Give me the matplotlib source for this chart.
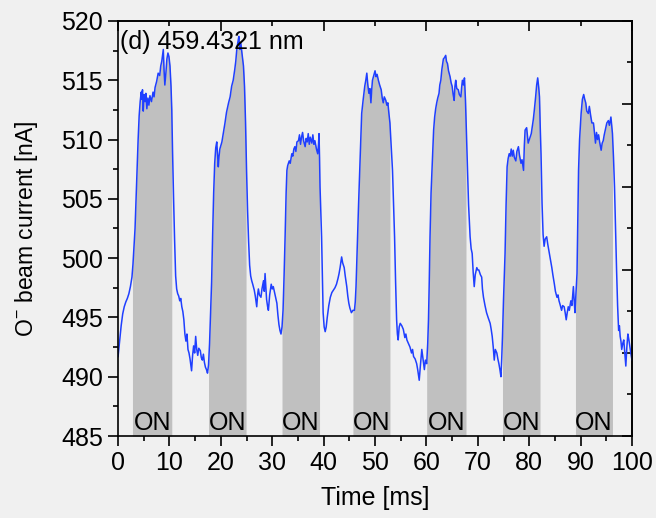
import matplotlib
matplotlib.use('Agg')
import matplotlib.pyplot as plt
from matplotlib.ticker import MultipleLocator
import numpy as np

plt.rcParams['font.family'] = ['Liberation Sans', 'DejaVu Sans']
plt.rcParams['mathtext.fontset'] = 'custom'
plt.rcParams['mathtext.rm'] = 'Liberation Sans'
plt.rcParams['mathtext.default'] = 'regular'

BG = '#f0f0f0'
LINE = '#1f3fff'
FILL = '#c0c0c0'

# beam current trace (time in ms, current in nA)
time_ms = [
    0.0, 0.3, 0.6, 0.9, 1.2, 1.5, 1.8, 2.1, 2.4, 2.7, 2.9, 3.1, 3.3, 3.5, 3.7, 3.9,
    4.1, 4.3, 4.5, 4.6, 4.75, 4.9, 5.05, 5.25, 5.4, 5.6, 5.8, 6.0, 6.2, 6.5, 6.8, 7.0,
    7.2, 7.5, 7.8, 8.1, 8.3, 8.5, 8.7, 8.8, 8.95, 9.1, 9.3, 9.5, 9.7, 9.9, 10.1, 10.3,
    10.45, 10.6, 10.8, 11.0, 11.2, 11.4, 11.6, 11.8, 12.0, 12.2, 12.4, 12.6, 12.8, 13.0,
    13.2, 13.4, 13.6, 13.8, 14.0, 14.2, 14.3, 14.5, 14.7, 14.9, 15.1, 15.3, 15.5, 15.7,
    16.0, 16.2, 16.4, 16.6, 16.8, 17.0, 17.2, 17.4, 17.6, 17.8, 18.0, 18.2, 18.4, 18.6,
    18.8, 19.0, 19.2, 19.35, 19.5, 19.65, 19.8, 20.0, 20.2, 20.5, 20.8, 21.1, 21.5, 21.8,
    22.1, 22.4, 22.7, 22.9, 23.1, 23.3, 23.5, 23.7, 23.9, 24.1, 24.4, 24.6, 24.8, 25.0,
    25.2, 25.4, 25.6, 25.8, 26.0, 26.2, 26.5, 26.7, 26.98, 27.15, 27.3, 27.5, 27.8, 28.0,
    28.3, 28.45, 28.6, 28.75, 28.9, 29.1, 29.25, 29.5, 29.8, 30.0, 30.2, 30.5, 30.7, 30.9,
    31.1, 31.3, 31.5, 31.7, 31.9, 32.1, 32.3, 32.5, 32.7, 32.85, 33.0, 33.3, 33.5, 33.8,
    34.0, 34.2, 34.4, 34.6, 34.8, 35.1, 35.3, 35.5, 35.7, 35.9, 36.1, 36.4, 36.6, 36.8,
    37.0, 37.2, 37.4, 37.7, 37.9, 38.1, 38.3, 38.6, 38.85, 39.0, 39.1, 39.2, 39.3, 39.45,
    39.6, 39.75, 39.9, 40.1, 40.3, 40.5, 40.7, 41.0, 41.3, 41.6, 41.9, 42.2, 42.5, 42.8,
    43.0, 43.2, 43.4, 43.5, 43.7, 44.0, 44.2, 44.5, 44.7, 44.9, 45.1, 45.4, 45.7, 45.99,
    46.15, 46.3, 46.5, 46.8, 47.1, 47.4, 47.7, 48.0, 48.2, 48.4, 48.6, 48.8, 49.0, 49.2,
    49.35, 49.5, 49.8, 50.0, 50.2, 50.4, 50.65, 50.9, 51.2, 51.4, 51.6, 51.8, 52.1, 52.3,
    52.5, 52.7, 52.9, 53.1, 53.4, 53.6, 53.8, 54.0, 54.2, 54.35, 54.5, 54.7, 54.9, 55.2,
    55.5, 55.8, 56.0, 56.2, 56.5, 56.8, 57.1, 57.3, 57.5, 57.8, 58.1, 58.3, 58.6, 58.8,
    59.1, 59.3, 59.6, 59.8, 60.05, 60.25, 60.4, 60.55, 60.7, 60.9, 61.2, 61.4, 61.6, 61.8,
    62.0, 62.2, 62.45, 62.6, 62.8, 63.0, 63.3, 63.5, 63.75, 63.9, 64.1, 64.3, 64.6, 64.8,
    65.0, 65.2, 65.4, 65.55, 65.7, 65.9, 66.2, 66.4, 66.7, 66.85, 67.0, 67.2, 67.4, 67.6,
    67.8, 68.0, 68.2, 68.5, 68.7, 68.9, 69.1, 69.3, 69.5, 69.8, 70.0, 70.2, 70.5, 70.75,
    70.9, 71.1, 71.4, 71.7, 72.0, 72.4, 72.6, 72.8, 73.0, 73.2, 73.4, 73.7, 73.9, 74.1,
    74.3, 74.5, 74.65, 74.8, 75.0, 75.3, 75.5, 75.7, 75.9, 76.1, 76.3, 76.5, 76.7, 76.9,
    77.1, 77.4, 77.6, 77.9, 78.1, 78.4, 78.6, 78.9, 79.05, 79.2, 79.5, 79.65, 79.8, 80.1,
    80.4, 80.6, 80.8, 81.0, 81.25, 81.45, 81.65, 81.85, 82.0, 82.15, 82.3, 82.5, 82.7, 82.9,
    83.1, 83.4, 83.6, 83.8, 84.1, 84.4, 84.6, 84.9, 85.1, 85.4, 85.6, 85.8, 86.0, 86.3,
    86.5, 86.8, 87.0, 87.2, 87.4, 87.6, 87.8, 88.1, 88.3, 88.6, 88.75, 88.9, 89.1, 89.3,
    89.45, 89.6, 89.8, 90.1, 90.35, 90.6, 90.8, 91.0, 91.2, 91.5, 91.7, 92.0, 92.2, 92.5,
    92.7, 92.9, 93.1, 93.3, 93.5, 93.7, 94.0, 94.2, 94.4, 94.6, 94.9, 95.1, 95.4, 95.6,
    95.9, 96.05, 96.2, 96.4, 96.6, 96.8, 97.0, 97.2, 97.4, 97.55, 97.7, 97.85, 98.0, 98.2,
    98.4, 98.6, 98.8, 99.0, 99.2, 99.4, 99.6, 99.8, 100.0,
]
current_nA = [
    491.7, 493.0, 494.3, 495.3, 495.9, 496.3, 496.6, 497.0, 497.6, 498.4, 499.5, 501.0, 502.5, 505.0, 507.5, 510.0,
    512.0, 513.2, 514.0, 513.4, 514.2, 512.4, 513.8, 513.2, 513.9, 512.6, 513.5, 512.9, 513.7, 513.2, 514.0, 513.6,
    514.4, 514.9, 515.6, 515.4, 516.2, 516.6, 517.3, 517.6, 515.8, 514.6, 515.6, 516.8, 517.3, 517.0, 516.2, 514.5,
    512.5, 509.0, 505.0, 501.5, 498.5, 497.4, 497.0, 496.8, 496.4, 496.6, 495.9, 495.5, 494.8, 493.6,
    493.0, 493.6, 492.3, 492.0, 491.5, 490.8, 490.5, 491.8, 492.6, 492.0, 493.4, 492.3, 491.8, 492.4,
    492.2, 491.6, 491.4, 491.9, 491.2, 490.8, 490.6, 490.3, 491.0, 492.8, 495.5, 498.0, 502.0, 505.5,
    508.0, 509.3, 509.8, 508.8, 507.7, 508.6, 509.2, 509.5, 509.8, 510.6, 511.4, 512.3, 513.1, 513.6,
    514.5, 515.0, 515.9, 516.6, 517.6, 518.2, 518.7, 517.6, 518.1, 517.3, 516.2, 514.5, 511.5, 507.4,
    504.0, 501.4, 499.4, 498.5, 498.1, 497.8, 497.3, 496.8, 495.9, 496.9, 497.4, 496.9, 496.7, 497.4,
    498.1, 497.2, 498.7, 497.6, 496.5, 495.9, 495.6, 496.9, 497.8, 497.4, 497.6, 497.0, 496.6, 496.2,
    495.2, 494.4, 493.9, 493.6, 494.2, 495.6, 498.5, 501.8, 505.5, 507.4, 507.8, 508.2, 508.0, 508.8,
    508.6, 509.2, 509.4, 509.0, 509.8, 509.9, 510.4, 509.6, 510.2, 510.6, 509.9, 509.4, 510.1, 509.8,
    510.5, 509.6, 510.2, 509.7, 510.4, 509.6, 509.9, 509.2, 508.8, 509.6, 510.5, 508.5, 506.0, 504.0,
    501.8, 498.5, 495.4, 494.2, 493.8, 494.2, 495.0, 496.0, 496.7, 497.1, 497.3, 497.5, 497.8, 498.3,
    498.7, 499.2, 499.8, 500.1, 499.6, 499.2, 498.5, 497.6, 496.8, 496.2, 495.8, 495.4, 495.6, 495.6,
    496.3, 497.6, 500.5, 504.6, 508.5, 512.2, 513.4, 514.5, 515.0, 515.6, 514.6, 513.9, 514.3, 513.1,
    514.2, 515.0, 515.5, 515.8, 515.3, 515.5, 515.0, 514.6, 514.2, 513.5, 513.1, 513.6, 513.3, 512.9,
    513.1, 512.2, 511.4, 509.8, 507.4, 504.5, 501.8, 498.0, 494.8, 493.6, 493.1, 494.2, 494.5, 494.3,
    494.0, 493.3, 493.6, 493.1, 492.8, 492.5, 492.0, 492.3, 491.7, 491.5, 491.1, 490.6, 489.7, 490.8,
    492.3, 491.6, 490.6, 491.4, 491.1, 492.8, 494.8, 498.0, 501.8, 505.5, 508.8, 510.8, 511.9, 512.6,
    513.1, 513.5, 513.9, 514.6, 515.0, 515.9, 516.8, 516.9, 517.1, 516.6, 516.4, 515.8, 515.3, 514.8,
    514.5, 513.8, 513.3, 514.5, 515.0, 514.3, 514.2, 513.8, 513.6, 514.4, 515.0, 514.6, 515.2, 513.3,
    510.5, 507.4, 504.5, 501.8, 500.8, 500.4, 498.8, 497.6, 498.6, 499.2, 499.0, 499.0, 498.6, 498.4,
    497.4, 496.7, 496.0, 495.4, 495.0, 494.5, 494.0, 493.4, 492.5, 491.4, 492.3, 492.0, 491.5, 491.1,
    490.6, 490.0, 491.5, 493.4, 496.5, 500.4, 504.5, 507.7, 508.4, 508.8, 508.6, 509.2, 508.6, 509.1,
    508.5, 508.2, 509.0, 509.4, 508.7, 508.0, 508.3, 507.4, 509.5, 510.8, 511.0, 510.3, 509.7, 510.1,
    510.5, 511.1, 511.7, 512.5, 513.6, 514.6, 515.2, 514.4, 513.6, 511.0, 508.8, 504.6, 502.0, 501.0,
    501.6, 501.8, 501.2, 500.7, 499.9, 499.2, 498.6, 497.8, 497.2, 496.7, 496.9, 496.4, 496.1, 495.6,
    496.0, 495.9, 495.4, 494.8, 495.4, 495.9, 495.6, 496.4, 496.0, 497.6, 496.4, 495.4, 497.0, 498.7,
    503.0, 507.4, 510.0, 512.2, 513.4, 513.8, 513.4, 513.1, 512.4, 512.2, 512.8, 511.9, 511.4, 511.4,
    510.6, 509.7, 510.6, 510.0, 510.4, 509.8, 509.1, 509.7, 509.9, 510.4, 511.0, 511.4, 511.6, 511.2,
    511.9, 511.2, 510.5, 508.5, 506.0, 502.5, 499.0, 496.0, 493.9, 494.3, 493.4, 493.0, 492.3, 492.8,
    493.1, 492.0, 490.9, 492.5, 493.6, 493.1, 492.5, 491.9, 491.4,
]

# laser ON windows (ms)
on_start = [2.8, 17.6, 31.9, 45.7, 60.05, 74.8, 89.0]
on_end = [10.45, 24.9, 39.2, 52.9, 67.7, 82.1, 96.2]

YMIN, YMAX = 485, 520


def fill_on(ax, t, v, start, end):
    inside = (t > start) & (t < end)
    x = np.concatenate([[start], t[inside], [end]])
    y = np.concatenate([[np.interp(start, t, v)], v[inside], [np.interp(end, t, v)]])
    ax.fill_between(x, YMIN, y, color=FILL, lw=0, zorder=1)


def main():
    t = np.array(time_ms)
    v = np.array(current_nA)

    fig = plt.figure(figsize=(6.56, 5.18), dpi=100, facecolor=BG)
    ax = fig.add_axes([0.18, 0.1583, 0.7834, 0.8012])
    ax.set_facecolor(BG)

    for s, e in zip(on_start, on_end):
        fill_on(ax, t, v, s, e)
        ax.text((s + e) / 2, 485.5, 'ON', ha='center', va='baseline', fontsize=18, zorder=3)

    ax.plot(t, v, color=LINE, lw=1.1, zorder=2)

    ax.set_xlim(0, 100)
    ax.set_ylim(YMIN, YMAX)
    ax.xaxis.set_major_locator(MultipleLocator(10))
    ax.xaxis.set_minor_locator(MultipleLocator(5))
    ax.yaxis.set_major_locator(MultipleLocator(5))
    ax.yaxis.set_minor_locator(MultipleLocator(2.5))
    ax.tick_params(which='major', direction='out', length=7, width=1.2, labelsize=18, pad=4)
    ax.tick_params(which='minor', direction='out', length=3.5, width=1.2)
    for sp in ax.spines.values():
        sp.set_linewidth(1.2)

    # top and right axes: inward ticks, no labels
    top = ax.secondary_xaxis('top')
    top.xaxis.set_major_locator(MultipleLocator(20))
    top.xaxis.set_minor_locator(MultipleLocator(10))
    top.tick_params(which='major', direction='in', length=7, width=1.2, labeltop=False)
    top.tick_params(which='minor', direction='in', length=3.5, width=1.2)

    right = ax.secondary_yaxis('right', functions=(lambda y: (y - YMIN) / (YMAX - YMIN),
                                                    lambda u: u * (YMAX - YMIN) + YMIN))
    right.yaxis.set_major_locator(MultipleLocator(0.2))
    right.yaxis.set_minor_locator(MultipleLocator(0.1))
    right.tick_params(which='major', direction='in', length=7, width=1.2, labelright=False)
    right.tick_params(which='minor', direction='in', length=3.5, width=1.2)
    for sec in (top, right):
        for sp in sec.spines.values():
            sp.set_linewidth(1.2)

    ax.text(0.4, 517.65, '(d) 459.4321 nm', ha='left', va='baseline', fontsize=18, zorder=4)

    ax.set_xlabel('Time [ms]', fontsize=18, labelpad=8)
    ax.set_ylabel('O$^{-}$ beam current [nA]', fontsize=16.5, labelpad=15)

    fig.savefig('out.png', dpi=100, facecolor=BG)


if __name__ == '__main__':
    main()
